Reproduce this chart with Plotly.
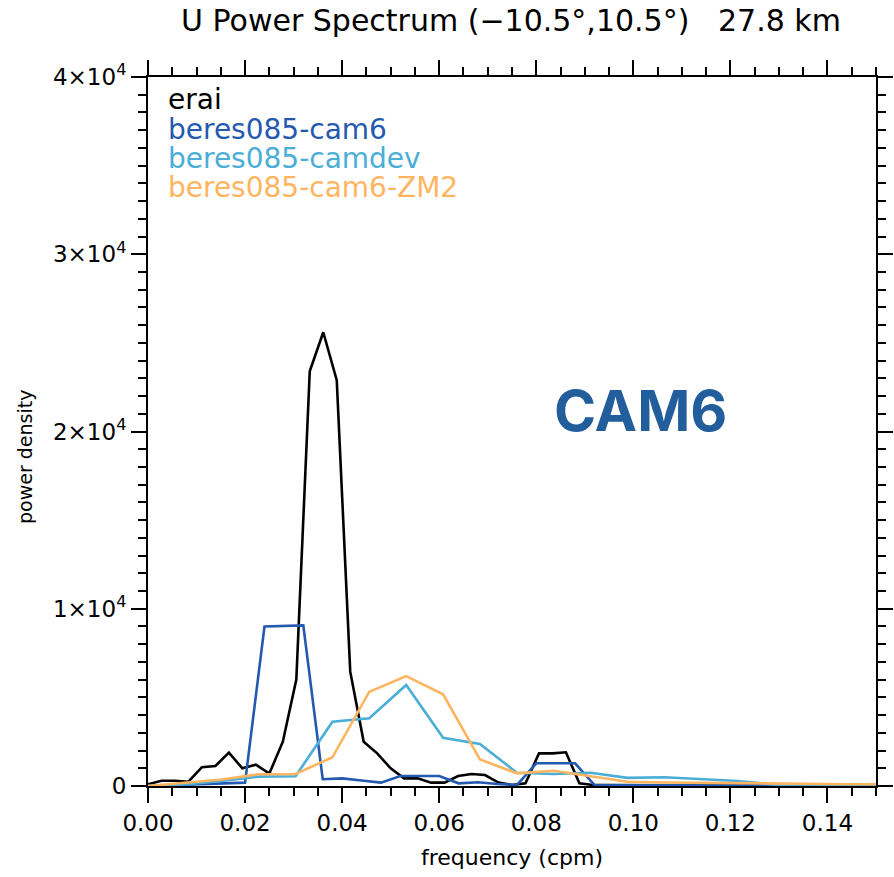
import plotly.graph_objects as go

# ---- data ----
freq_erai = [0.0, 0.00278, 0.00556, 0.00833, 0.01111, 0.01389, 0.01667, 0.01944, 0.02222, 0.025,
             0.02778, 0.03056, 0.03333, 0.03611, 0.03889, 0.04167, 0.04444, 0.04722, 0.05, 0.05278,
             0.05556, 0.05833, 0.06111, 0.06389, 0.06667, 0.06944, 0.07222, 0.075, 0.07778, 0.08056,
             0.08333, 0.08611, 0.08889, 0.09167, 0.09444, 0.09722, 0.1, 0.10278, 0.10556, 0.10833,
             0.11111, 0.11389, 0.11667, 0.11944, 0.12222, 0.125, 0.12778, 0.13056, 0.13333, 0.13611,
             0.13889, 0.14167, 0.14444, 0.14722, 0.15]
power_erai = [100, 300, 300, 240, 1060, 1130, 1880, 1000, 1200, 700,
              2500, 6000, 23400, 25600, 22900, 6450, 2500, 1840, 1000, 430,
              430, 190, 190, 560, 680, 620, 190, 56, 150, 1840,
              1840, 1900, 150, 60, 50, 50, 40, 40, 40, 30,
              30, 30, 30, 20, 20, 20, 20, 20, 20, 20,
              10, 10, 10, 10, 10]

freq_cam6 = [0.0, 0.004, 0.008, 0.012, 0.016, 0.02, 0.024, 0.028, 0.032, 0.036,
             0.04, 0.044, 0.048, 0.052, 0.056, 0.06, 0.064, 0.068, 0.072, 0.076,
             0.08, 0.084, 0.088, 0.092, 0.096, 0.1, 0.104, 0.108, 0.112, 0.116,
             0.12, 0.124, 0.128, 0.132, 0.136, 0.14, 0.144, 0.148]
power_cam6 = [0, 30, 60, 100, 140, 190, 9000, 9030, 9060, 380,
              430, 310, 190, 560, 560, 560, 150, 210, 110, 56,
              1280, 1280, 1280, 56, 50, 50, 40, 40, 40, 30,
              30, 30, 30, 20, 20, 20, 20, 20]

freq_dev = [0.0, 0.0076, 0.0152, 0.0228, 0.0304, 0.038, 0.0456, 0.0532, 0.0608, 0.0684,
            0.076, 0.0836, 0.0912, 0.0988, 0.1064, 0.114, 0.1216, 0.1292, 0.1368, 0.1444, 0.152]
power_camdev = [0, 90, 280, 530, 550, 3630, 3820, 5700, 2720, 2370,
                750, 680, 750, 460, 490, 380, 280, 80, 70, 60, 50]
power_zm2 = [0, 170, 370, 660, 680, 1620, 5320, 6200, 5170, 1500,
             715, 860, 560, 240, 200, 180, 120, 110, 110, 100, 100]

series_names = ["erai", "beres085-cam6", "beres085-camdev", "beres085-cam6-ZM2"]
series_colors = ["#000000", "#2459b0", "#4aaed6", "#ffb560"]

ytick_vals = [0, 10000, 20000, 30000, 40000]
ytick_text = ["0", "1×10<sup>4</sup>", "2×10<sup>4</sup>", "3×10<sup>4</sup>", "4×10<sup>4</sup>"]
xtick_vals = [0.0, 0.02, 0.04, 0.06, 0.08, 0.10, 0.12, 0.14]
xtick_text = ["0.00", "0.02", "0.04", "0.06", "0.08", "0.10", "0.12", "0.14"]

FONT = "DejaVu Sans"
W, H = 894, 877
L, R, T, B = 148, 18, 77, 91
PW, PH = W - L - R, H - T - B


def px(x):
    return (x - L) / PW


def py(y):
    return (H - B - y) / PH


fig = go.Figure()
for x, y, name, col in [
    (freq_erai, power_erai, series_names[0], series_colors[0]),
    (freq_cam6, power_cam6, series_names[1], series_colors[1]),
    (freq_dev, power_camdev, series_names[2], series_colors[2]),
    (freq_dev, power_zm2, series_names[3], series_colors[3]),
]:
    fig.add_trace(go.Scatter(x=x, y=y, mode="lines", name=name,
                             line=dict(color=col, width=2.6), showlegend=False))

# text legend
for i, (name, col) in enumerate(zip(series_names, series_colors)):
    fig.add_annotation(x=px(166), y=py(100 + 29 * i), xref="paper", yref="paper",
                       text=name, showarrow=False, xanchor="left", yanchor="middle",
                       font=dict(family=FONT, size=28, color=col))

fig.add_annotation(x=px(640), y=py(410), xref="paper", yref="paper",
                   text="<b>CAM6</b>", showarrow=False, xanchor="center", yanchor="middle",
                   font=dict(family="Inter", size=57, color="#225e9c"))

# axis titles
fig.add_annotation(x=px(512), y=py(857), xref="paper", yref="paper",
                   text="frequency (cpm)", showarrow=False, xanchor="center", yanchor="middle",
                   font=dict(family=FONT, size=22, color="black"))
fig.add_annotation(x=px(25), y=py(457), xref="paper", yref="paper",
                   text="power density", showarrow=False, xanchor="center", yanchor="middle",
                   textangle=-90, font=dict(family=FONT, size=19, color="black"))

axis_common = dict(showline=True, linecolor="black", linewidth=2, mirror="allticks",
                   ticks="outside", ticklen=15, tickwidth=2, tickcolor="black",
                   showgrid=False, zeroline=False, automargin=False,
                   tickfont=dict(family=FONT, size=23, color="black"))

fig.update_xaxes(range=[0, 0.15], tickvals=xtick_vals, ticktext=xtick_text,
                 minor=dict(dtick=0.005, tick0=0, ticks="outside", ticklen=8, tickwidth=2,
                            tickcolor="black", showgrid=False),
                 **axis_common)
fig.update_yaxes(range=[0, 40000], tickvals=ytick_vals, ticktext=ytick_text,
                 minor=dict(dtick=1000, tick0=0, ticks="outside", ticklen=8, tickwidth=2,
                            tickcolor="black", showgrid=False),
                 **axis_common)

fig.update_layout(
    width=W, height=H,
    margin=dict(l=L, r=R, t=T, b=B, autoexpand=False),
    plot_bgcolor="white", paper_bgcolor="white",
    title=dict(text="U Power Spectrum (−10.5°,10.5°)   27.8 km", x=511 / W, xanchor="center",
               y=1 - 20 / H, yanchor="middle", font=dict(family=FONT, size=30, color="black")),
)

fig.write_html("out.html", config={"displayModeBar": False},
               post_script="document.body.style.margin='0';document.body.style.overflow='hidden';")
